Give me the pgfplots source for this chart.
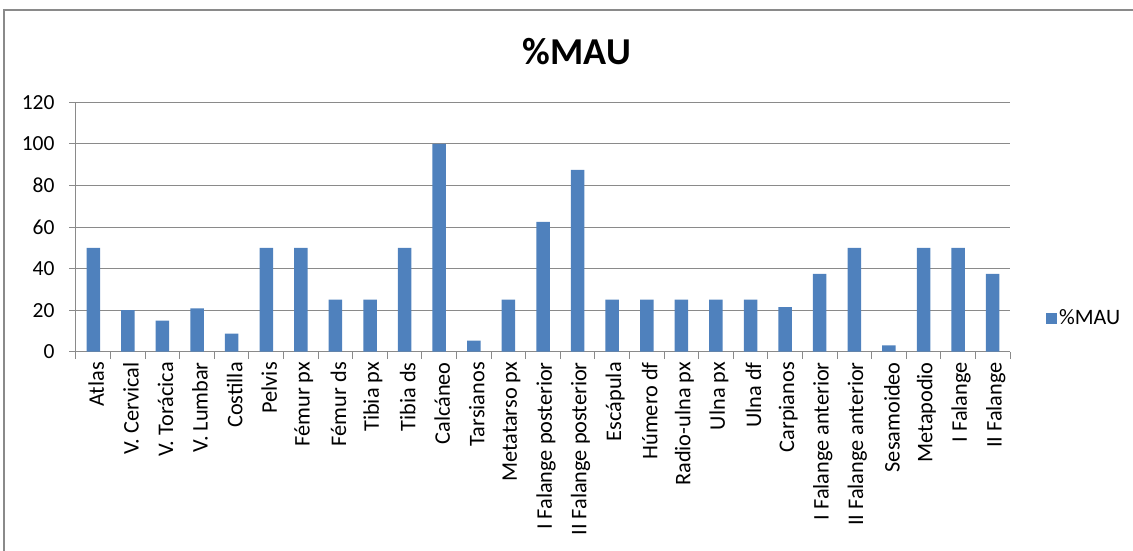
\documentclass[border=0pt]{standalone}
\usepackage{pgfplots}
\pgfplotsset{compat=1.18}
\usepackage{fontspec}
\setmainfont{Carlito}
\definecolor{barblue}{HTML}{4F81BD}
\definecolor{axisgray}{HTML}{8A8A8A}
\begin{document}
\begin{tikzpicture}
\useasboundingbox (0,0) rectangle (1133pt,550pt);
\draw[axisgray, line width=1.5pt] (4pt,-20pt) rectangle (1150pt,540pt);
\node[font=\fontsize{38}{44}\selectfont\bfseries] at (577pt,498pt) {\%MAU};
\begin{axis}[
  at={(76pt,198.3pt)}, anchor=south west,
  scale only axis, width=934pt, height=249.4pt,
  xmin=-0.5, xmax=26.5, ymin=0, ymax=120,
  ytick={0,20,...,120},
  xtick={0,...,26},
  minor xtick={-0.5,0.5,...,26.5},
  xticklabels={Atlas,V. Cervical,V. Torácica,V. Lumbar,Costilla,Pelvis,Fémur px,Fémur ds,Tibia px,Tibia ds,Calcáneo,Tarsianos,Metatarso px,I Falange posterior,II Falange posterior,Escápula,Húmero df,Radio-ulna px,Ulna px,Ulna df,Carpianos,I Falange anterior,II Falange anterior,Sesamoideo,Metapodio,I Falange,II Falange},
  x tick label style={rotate=90, anchor=east, font=\fontsize{22.3}{26}\selectfont, yshift=-3pt},
  y tick label style={font=\fontsize{21.5}{25}\selectfont, xshift=-11pt},
  /pgf/number format/assume math mode=true,
  axis x line*=bottom, axis y line*=left,
  axis line style={draw=axisgray, line width=1pt},
  tick align=outside,
  major tick length=7pt, minor tick length=7pt,
  major x tick style={draw=none},
  minor x tick style={draw=axisgray, line width=1pt},
  y tick style={draw=axisgray, line width=1pt},
  ymajorgrids, grid style={draw=axisgray, line width=1pt},
  legend style={at={(1.0385,0.135)}, anchor=west, draw=none, fill=none, inner sep=0pt,
    font=\fontsize{22}{26}\selectfont},
  legend image code/.code={\fill[barblue] (0pt,-5.5pt) rectangle (11pt,5.5pt);},
]
\addplot[ybar, bar width=13.5pt, fill=barblue, draw=none] coordinates {
(0,50) (1,20) (2,15) (3,20.8) (4,8.7) (5,50) (6,50) (7,25) (8,25) (9,50)
(10,100) (11,5.3) (12,25) (13,62.5) (14,87.5) (15,25) (16,25) (17,25) (18,25) (19,25)
(20,21.4) (21,37.5) (22,50) (23,3.1) (24,50) (25,50) (26,37.5)};
\addlegendentry{\%MAU}
\end{axis}
\end{tikzpicture}
\end{document}
